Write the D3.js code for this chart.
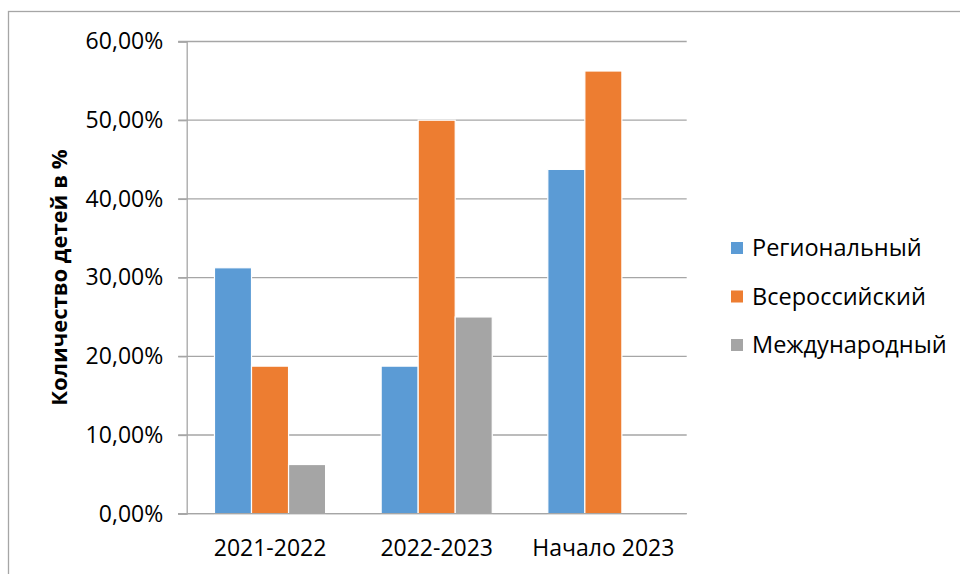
<!DOCTYPE html>
<html><head><meta charset="utf-8">
<script src="https://cdn.jsdelivr.net/npm/d3@7"></script>
<style>html,body{margin:0;padding:0;background:#fff;}svg{display:block;}</style>
</head><body>
<script>
const categories = ["2021-2022", "2022-2023", "Начало 2023"];
const seriesNames = ["Региональный", "Всероссийский", "Международный"];
const regional = [0.3125, 0.1875, 0.4375];
const allRussian = [0.1875, 0.50, 0.5625];
const international = [0.0625, 0.25, 0];
const colors = ["#5b9bd5", "#ed7d31", "#a5a5a5"];
const yTicks = [0, 0.1, 0.2, 0.3, 0.4, 0.5, 0.6];
const yTitle = "Количество детей в %";

const seriesValues = [regional, allRussian, international];
const W = 960, H = 574;
const font = "'Open Sans', 'Liberation Sans', sans-serif";
const svg = d3.select("body").append("svg").attr("width", W).attr("height", H);

// outer chart border
svg.append("rect").attr("x", 8.5).attr("y", 11.5).attr("width", W).attr("height", H)
  .attr("fill", "none").attr("stroke", "#a6a6a6").attr("stroke-width", 1.3);

const pL = 186.7, pR = 686.7, pT = 41.5, pB = 513.7;
const x0 = d3.scaleBand().domain(categories).range([pL, pR]).paddingInner(1 / 3).paddingOuter(1 / 6);
const x1 = d3.scaleBand().domain(d3.range(seriesNames.length)).range([0, x0.bandwidth()]);
const y = d3.scaleLinear().domain([0, 0.6]).range([pB, pT]);
const fmt = v => d3.format(".2f")(v * 100).replace(".", ",") + "%";

// gridlines
svg.append("g").selectAll("line").data(yTicks).join("line")
  .attr("x1", pL - 8.5).attr("x2", pR).attr("y1", d => y(d)).attr("y2", d => y(d))
  .attr("stroke", "#a6a6a6").attr("stroke-width", 1.3);

// y axis
const yAxis = svg.append("g").attr("transform", `translate(${pL},0)`)
  .call(d3.axisLeft(y).tickValues(yTicks).tickFormat(fmt).tickSize(8.5).tickPadding(15));
yAxis.select(".domain").attr("stroke", "#a6a6a6").attr("stroke-width", 1.3);
yAxis.selectAll(".tick line").attr("stroke", "#a6a6a6").attr("stroke-width", 1.3);
yAxis.selectAll("text").attr("font-family", font).attr("font-size", 23).attr("fill", "#000");

// bars
const groups = svg.append("g").selectAll("g").data(categories).join("g")
  .attr("transform", d => `translate(${x0(d)},0)`);
groups.selectAll("rect").data((c, ci) => seriesValues.map((s, si) => ({si, v: s[ci]})))
  .join("rect")
  .attr("x", d => x1(d.si)).attr("width", x1.bandwidth())
  .attr("y", d => y(d.v)).attr("height", d => pB - y(d.v))
  .attr("fill", d => colors[d.si])
  .attr("stroke", d => d.v > 0 ? "#fff" : "none").attr("stroke-width", 1.2);

// x axis
const xAxis = svg.append("g").attr("transform", `translate(0,${pB})`)
  .call(d3.axisBottom(x0).tickSize(0).tickPadding(26));
xAxis.select(".domain").attr("stroke", "#a6a6a6").attr("stroke-width", 1.3)
  .attr("d", `M${pL - 8.5},0H${pR}`);
xAxis.selectAll("text").attr("font-family", font).attr("font-size", 23).attr("fill", "#000");

// y title
svg.append("text").attr("transform", `translate(67,${(pT + pB) / 2}) rotate(-90)`)
  .attr("text-anchor", "middle").attr("font-family", font).attr("font-size", 22)
  .attr("font-weight", "bold").text(yTitle);

// legend
const legend = svg.append("g").selectAll("g").data(seriesNames).join("g")
  .attr("transform", (d, i) => `translate(731,${248 + i * 48.5})`);
legend.append("rect").attr("x", 0).attr("y", -6).attr("width", 12).attr("height", 12)
  .attr("fill", (d, i) => colors[i]);
legend.append("text").attr("x", 21).attr("y", 0).attr("dy", "0.35em")
  .attr("font-family", font).attr("font-size", 23.5).text(d => d);
</script>
</body></html>
